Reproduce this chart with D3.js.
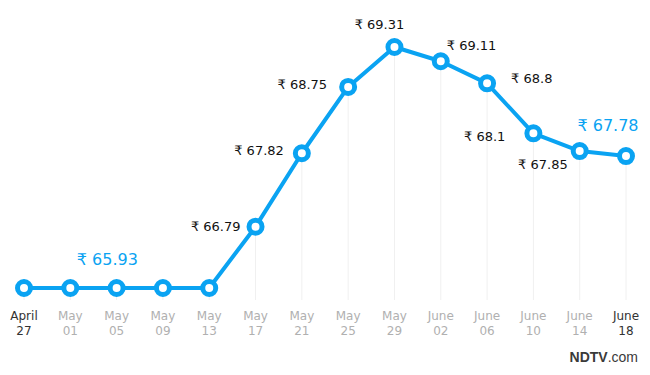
<!DOCTYPE html>
<html><head><meta charset="utf-8">
<script src="https://cdn.jsdelivr.net/npm/d3@7/dist/d3.min.js"></script>
<style>body{margin:0;background:#fff;}svg{display:block;font-family:"DejaVu Sans",sans-serif;}</style>
</head><body>
<svg id="c" width="650" height="375"></svg>
<script>
const months = ["April","May","May","May","May","May","May","May","May","June","June","June","June","June"];
const days = ["27","01","05","09","13","17","21","25","29","02","06","10","14","18"];
const values = [65.93,65.93,65.93,65.93,65.93,66.79,67.82,68.75,69.31,69.11,68.8,68.1,67.85,67.78];
// label placement: [dx, dy, anchor]; null = no label
const labelPos = [null,[37,-29,"middle"],null,null,null,[-15,0,"end"],[-18,-3,"end"],[-21,-2,"end"],[-15,-23,"middle"],[6,-16,"start"],[24,-5,"start"],[-28,3,"end"],[-12,13,"end"],[-18,-31,"middle"]];
const highlight = [1,13];

const svg = d3.select("#c");
const x = d3.scalePoint().domain(d3.range(values.length)).range([24,626]);
const y = d3.scaleLinear().domain([65.93,69.31]).range([288,47]);
const blue = "#0aa3f2";

// vertical guides
svg.append("g").selectAll("line").data(values).join("line")
  .attr("x1",(d,i)=>x(i)).attr("x2",(d,i)=>x(i))
  .attr("y1",d=>y(d)).attr("y2",300)
  .attr("stroke","#f0f0f0").attr("stroke-width",1);

const line = d3.line().x((d,i)=>x(i)).y(d=>y(d));
svg.append("path").datum(values).attr("d",line)
  .attr("fill","none").attr("stroke",blue).attr("stroke-width",4).attr("stroke-linejoin","round");

svg.append("g").selectAll("circle").data(values).join("circle")
  .attr("cx",(d,i)=>x(i)).attr("cy",d=>y(d)).attr("r",6.5)
  .attr("fill","#fff").attr("stroke",blue).attr("stroke-width",5);

// data labels
values.forEach((v,i)=>{
  const p = labelPos[i]; if(!p) return;
  const hi = highlight.includes(i);
  svg.append("text").attr("x",x(i)+p[0]).attr("y",y(v)+p[1])
    .attr("text-anchor",p[2]).attr("dominant-baseline","central")
    .attr("font-size",hi?16:13).attr("fill",hi?blue:"#111")
    .text("₹ "+v);
});

// axis labels
const ax = svg.append("g").selectAll("text").data(months).join("text")
  .attr("x",(d,i)=>x(i)).attr("text-anchor","middle").attr("font-size",12)
  .attr("fill",(d,i)=>(i===0||i===values.length-1)?"#333":"#b0b0b0");
ax.append("tspan").attr("x",(d,i)=>x(i)).attr("y",320).text(d=>d);
ax.append("tspan").attr("x",(d,i)=>x(i)).attr("y",335).text((d,i)=>days[i]);

// logo
const logo = svg.append("text").attr("x",638).attr("y",362).attr("text-anchor","end")
  .attr("font-size",14).attr("font-weight","bold").attr("fill","#3a3a3a").attr("font-family","Liberation Sans, Arial, sans-serif");
logo.append("tspan").text("NDTV");
logo.append("tspan").attr("font-weight","normal").text(".com");
</script>
</body></html>
